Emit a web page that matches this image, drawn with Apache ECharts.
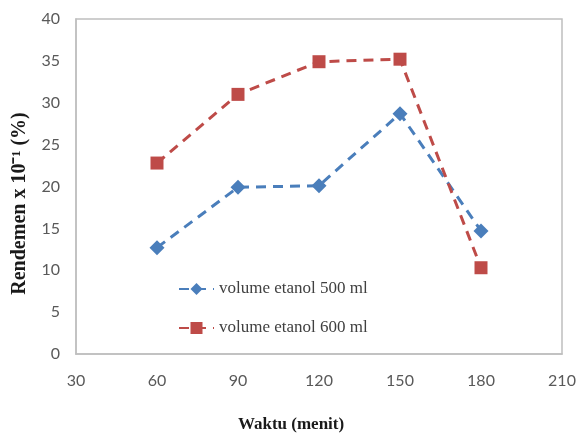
<!DOCTYPE html>
<html>
<head>
<meta charset="utf-8">
<script src="https://cdn.jsdelivr.net/npm/echarts@6/dist/echarts.min.js"></script>
<style>html,body{margin:0;padding:0;background:#fff}#c{width:585px;height:438px}</style>
</head>
<body>
<div id="c"></div>
<script>
var times = [60, 90, 120, 150, 180];
var seriesNames = ['volume etanol 500 ml', 'volume etanol 600 ml'];
var vol500 = [12.7, 19.9, 20.1, 28.7, 14.7];
var vol600 = [22.8, 31.0, 34.9, 35.2, 10.3];
var xTicks = [30, 60, 90, 120, 150, 180, 210];
var yTicks = [0, 5, 10, 15, 20, 25, 30, 35, 40];

function pairs(xs, ys) { return xs.map(function (x, i) { return [x, ys[i]]; }); }

var chart = echarts.init(document.getElementById('c'), null, {renderer: 'canvas'});
var tickFont = {fontFamily: 'Lato', fontSize: 16, color: '#595959'};
chart.setOption({
  animation: false,
  backgroundColor: '#fff',
  grid: {left: 76, right: 23, top: 19, bottom: 83, show: true, borderColor: '#bfbfbf', borderWidth: 1.5},
  legend: {
    orient: 'vertical', left: 173, top: 275, itemGap: 21, itemWidth: 35, itemHeight: 15,
    textStyle: {fontFamily: 'Liberation Serif', fontSize: 17, lineHeight: 18, color: '#404040', padding: [0, 0, 0, 0]},
    data: seriesNames
  },
  xAxis: {
    type: 'value', min: xTicks[0], max: xTicks[xTicks.length - 1], interval: 30,
    name: 'Waktu (menit)', nameLocation: 'middle', nameGap: 62,
    nameTextStyle: {fontFamily: 'Liberation Serif', fontWeight: 'bold', fontSize: 17, color: '#1a1a1a', padding: [0, 56, 0, 0]},
    axisLine: {show: true, lineStyle: {color: '#bfbfbf', width: 1.5}},
    axisTick: {show: false}, splitLine: {show: false},
    axisLabel: Object.assign({margin: 19}, tickFont)
  },
  yAxis: {
    type: 'value', min: yTicks[0], max: yTicks[yTicks.length - 1], interval: 5,
    name: 'Rendemen x 10\u207B\u00B9 (%)', nameLocation: 'middle', nameGap: 46,
    nameTextStyle: {fontFamily: 'Liberation Serif', fontWeight: 'bold', fontSize: 20, color: '#1a1a1a', padding: [0, 34, 0, 0]},
    axisLine: {show: true, lineStyle: {color: '#bfbfbf', width: 1.5}},
    axisTick: {show: false}, splitLine: {show: false},
    axisLabel: Object.assign({margin: 16}, tickFont)
  },
  series: [
    {
      name: seriesNames[0], type: 'line', data: pairs(times, vol500),
      symbol: 'diamond', symbolSize: 15,
      itemStyle: {color: '#4a7ebb'},
      lineStyle: {color: '#4a7ebb', width: 3, type: [10, 7]}
    },
    {
      name: seriesNames[1], type: 'line', data: pairs(times, vol600),
      symbol: 'rect', symbolSize: 13,
      itemStyle: {color: '#be4b48'},
      lineStyle: {color: '#be4b48', width: 3, type: [10, 7]}
    }
  ]
});
</script>
</body>
</html>
